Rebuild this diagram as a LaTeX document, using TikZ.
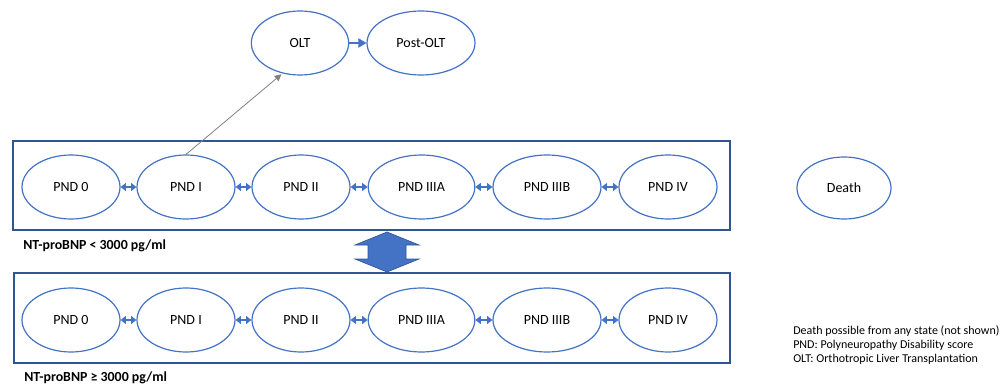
\documentclass[tikz,border=0pt]{standalone}
\usepackage{fontspec}
\setmainfont{Carlito}
\usetikzlibrary{shapes.geometric,arrows.meta}

\definecolor{stateblue}{HTML}{4472C4}
\definecolor{boxblue}{HTML}{2F5597}

\tikzset{
	state/.style={ellipse, draw=stateblue, line width=0.9pt, fill=white,
		minimum width=#1, minimum height=48pt, inner sep=0pt, font=\fontsize{10.5}{12}\selectfont},
	state/.default=73.5pt,
	group/.style={draw=boxblue, line width=0.9pt, fill=white},
	link/.style={stateblue, line width=0.8pt, {Triangle[length=4pt,width=6pt]}-{Triangle[length=4pt,width=6pt]}},
	grouplabel/.style={anchor=west, inner sep=0pt, font=\bfseries\fontsize{10.4}{12}\selectfont}
}

\begin{document}
\begin{tikzpicture}[x=0.75pt, y=-0.75pt]
	\useasboundingbox (0,0) rectangle (1001,385);

	% Group boxes
	\draw[group] (13,141) rectangle (730,230);
	\draw[group] (14,273) rectangle (730,363);

	% Group labels
	\node[grouplabel] (lowlbl) at (23,246) {NT-proBNP < 3000 pg/ml};
	\node[grouplabel] (highlbl) at (24,378) {NT-proBNP \symbol{"2265} 3000 pg/ml};

	% Transplant states
	\node[state=73pt] (OLT) at (300,43) {OLT};
	\node[state=81pt] (POLT) at (421,43) {Post-OLT};

	% States, low NT-proBNP
	\node[state] (L0) at (71,187) {PND 0};
	\node[state] (L1) at (186,187) {PND I};
	\node[state] (L2) at (301,187) {PND II};
	\node[state=80pt] (L3A) at (421.5,187) {PND IIIA};
	\node[state=81pt] (L3B) at (547,187) {PND IIIB};
	\node[state] (L4) at (668,187) {PND IV};

	% States, high NT-proBNP
	\node[state] (H0) at (71,320) {PND 0};
	\node[state] (H1) at (186,320) {PND I};
	\node[state] (H2) at (301,320) {PND II};
	\node[state=80pt] (H3A) at (421.5,320) {PND IIIA};
	\node[state=81pt] (H3B) at (547,320) {PND IIIB};
	\node[state] (H4) at (668,320) {PND IV};

	% Absorbing state
	\node[state=70.5pt, minimum height=46.5pt] (Death) at (844,188) {Death};

	% Progression links
	\foreach \a/\b in {L0/L1, L1/L2, L2/L3A, L3A/L3B, L3B/L4,
		H0/H1, H1/H2, H2/H3A, H3A/H3B, H3B/H4}
		\draw[link] (\a) -- (\b);

	% Transplant
	\draw[gray, line width=0.6pt, -{Triangle[length=5pt,width=5pt]}, shorten >=1pt]
		(L1.north) -- (OLT.240);
	\draw[stateblue, line width=0.8pt, -{Triangle[length=6pt,width=7pt]}] (OLT) -- (POLT);

	% Switch between NT-proBNP groups
	\draw[fill=stateblue, draw=boxblue, line width=0.5pt]
		(387,232) -- (419,245) -- (406,245) -- (406,259) -- (419,259)
		-- (387,272) -- (355,259) -- (368,259) -- (368,245) -- (355,245) -- cycle;

	% Legend
	\node[anchor=north west, align=left, inner sep=0pt,
		font=\fontsize{9}{10.6}\selectfont] (legend) at (793,325)
		{Death possible from any state (not shown)\\
		 PND: Polyneuropathy Disability score\\
		 OLT: Orthotropic Liver Transplantation};
\end{tikzpicture}
\end{document}
